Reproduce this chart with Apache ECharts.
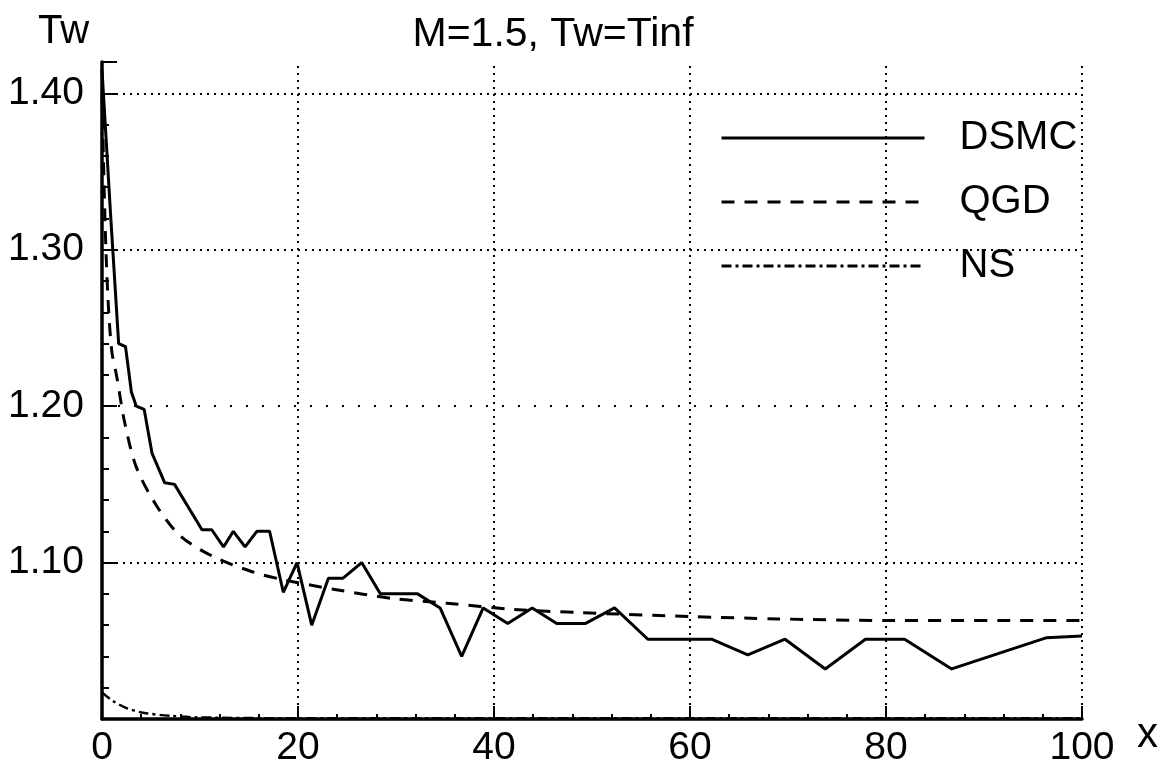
<!DOCTYPE html>
<html>
<head>
<meta charset="utf-8">
<script src="https://cdn.jsdelivr.net/npm/echarts@6/dist/echarts.min.js"></script>
<style>html,body{margin:0;padding:0;background:#fff}#chart{width:1167px;height:765px}</style>
</head>
<body>
<div id="chart"></div>
<script>
// ---- data ----
const dsmcX = [0, 0.9, 1.7, 2.4, 3.0, 3.5, 4.3, 5.1, 6.4, 7.4, 10.2, 11.2, 12.4, 13.4, 14.6, 15.8, 17.1, 18.5, 19.9, 21.4, 23.1, 24.6, 26.5, 28.4, 32.2, 34.5, 36.7, 38.9, 41.4, 43.9, 46.4, 49.3, 52.3, 55.7, 60.2, 62.2, 65.9, 69.7, 73.8, 77.9, 81.9, 86.7, 96.4, 100];
const dsmcY = [1.415, 1.32, 1.24, 1.238, 1.209, 1.20, 1.198, 1.17, 1.151, 1.15, 1.121, 1.121, 1.11, 1.12, 1.11, 1.12, 1.12, 1.081, 1.10, 1.06, 1.09, 1.09, 1.10, 1.08, 1.08, 1.071, 1.04, 1.071, 1.061, 1.071, 1.061, 1.061, 1.071, 1.051, 1.051, 1.051, 1.041, 1.051, 1.032, 1.051, 1.051, 1.032, 1.052, 1.053];
const qgdX = [0, 0.3, 0.6, 1.0, 1.5, 2.3, 3.5, 5.6, 8, 11.3, 15.4, 18.5, 23.6, 29.7, 35.2, 42, 48.8, 60, 69, 80, 100];
const qgdY = [1.40, 1.32, 1.27, 1.235, 1.219, 1.19, 1.161, 1.136, 1.117, 1.104, 1.094, 1.089, 1.083, 1.077, 1.074, 1.070, 1.068, 1.0655, 1.064, 1.063, 1.063];
const nsX = [0, 1, 2.5, 4.2, 7, 10, 20, 100];
const nsY = [1.017, 1.012, 1.007, 1.004, 1.002, 1.001, 1.0005, 1.0005];
const seriesNames = ['DSMC', 'QGD', 'NS'];
const xTicks = [0, 20, 40, 60, 80, 100];
const yTicks = [1.10, 1.20, 1.30, 1.40];

const pairs = (xs, ys) => xs.map((x, i) => [x, ys[i]]);
const FONT = "'Liberation Sans', Arial, sans-serif";

const gridLines = [];
yTicks.forEach(v => gridLines.push({
  yAxis: v,
  lineStyle: { type: Math.abs(v - 1.2) < 1e-9 ? [2, 14] : [2, 5] }
}));
xTicks.slice(1).forEach(v => gridLines.push({ xAxis: v }));

const chart = echarts.init(document.getElementById('chart'), null, { renderer: 'canvas' });
chart.setOption({
  animation: false,
  backgroundColor: '#fff',
  title: {
    text: 'M=1.5, Tw=Tinf',
    left: 548, top: 9, textAlign: 'center',
    textStyle: { fontFamily: FONT, fontSize: 41, fontWeight: 'normal', color: '#000' }
  },
  legend: {
    orient: 'vertical',
    left: 715, top: 113,
    itemWidth: 203, itemHeight: 14, itemGap: 24,
    data: seriesNames,
    itemStyle: { color: 'transparent', borderWidth: 0, opacity: 0 },
    lineStyle: { width: 3 },
    textStyle: { fontFamily: FONT, fontSize: 40, color: '#000', lineHeight: 40, padding: [0, 0, 0, 30] }
  },
  graphic: [
    { type: 'text', left: 38, top: 12, style: { text: 'Tw', font: '40px ' + FONT, fill: '#000' } },
    { type: 'text', left: 1137, top: 714, style: { text: 'x', font: '42px ' + FONT, fill: '#000' } }
  ],
  grid: { left: 102, right: 85, top: 62, bottom: 46, containLabel: false, outerBoundsMode: 'none' },
  xAxis: {
    type: 'value', min: 0, max: 100, interval: 20,
    axisLine: { show: true, onZero: false, lineStyle: { color: '#000', width: 3.5 } },
    axisTick: { show: true, inside: true, length: 13, lineStyle: { color: '#000', width: 2 } },
    minorTick: { show: true, splitNumber: 5, length: 5, lineStyle: { color: '#000', width: 2 } },
    axisLabel: { fontFamily: FONT, fontSize: 39, color: '#000', margin: 10 },
    splitLine: { show: false }
  },
  yAxis: [
    {
      type: 'value', min: 1.0, max: 1.42, interval: 0.02, position: 'left',
      axisLine: { show: true, onZero: false, lineStyle: { color: '#000', width: 3.5 } },
      axisTick: { show: true, inside: true, length: 7, lineStyle: { color: '#000', width: 2 } },
      axisLabel: { show: false },
      splitLine: { show: false }
    },
    {
      type: 'value', min: 1.0, max: 1.42, interval: 0.1, position: 'left', offset: 0,
      axisLine: { show: false },
      axisTick: { show: true, inside: true, length: 15, lineStyle: { color: '#000', width: 2 } },
      axisLabel: {
        fontFamily: FONT, fontSize: 39, color: '#000', margin: 18,
        formatter: v => (v > 1.05 && Math.abs(v * 10 - Math.round(v * 10)) < 1e-6) ? v.toFixed(2) : ''
      },
      splitLine: { show: false }
    }
  ],
  series: [
    {
      name: seriesNames[0], type: 'line', yAxisIndex: 0, symbol: 'none', showSymbol: false,
      data: pairs(dsmcX, dsmcY),
      lineStyle: { color: '#000', width: 3, type: 'solid' },
      itemStyle: { color: '#000' }
    },
    {
      name: seriesNames[1], type: 'line', yAxisIndex: 0, symbol: 'none', showSymbol: false, smooth: 0.3,
      data: pairs(qgdX, qgdY),
      lineStyle: { color: '#000', width: 3, type: [13, 10] },
      itemStyle: { color: '#000' }
    },
    {
      name: seriesNames[2], type: 'line', yAxisIndex: 0, symbol: 'none', showSymbol: false, smooth: 0.3,
      data: pairs(nsX, nsY),
      lineStyle: { color: '#000', width: 2.5, type: [10, 4, 3, 4] },
      itemStyle: { color: '#000' },
      markLine: {
        silent: true, symbol: ['none', 'none'], label: { show: false },
        lineStyle: { color: '#000', width: 2, type: [2, 5] },
        data: gridLines
      }
    }
  ]
});
</script>
</body>
</html>
